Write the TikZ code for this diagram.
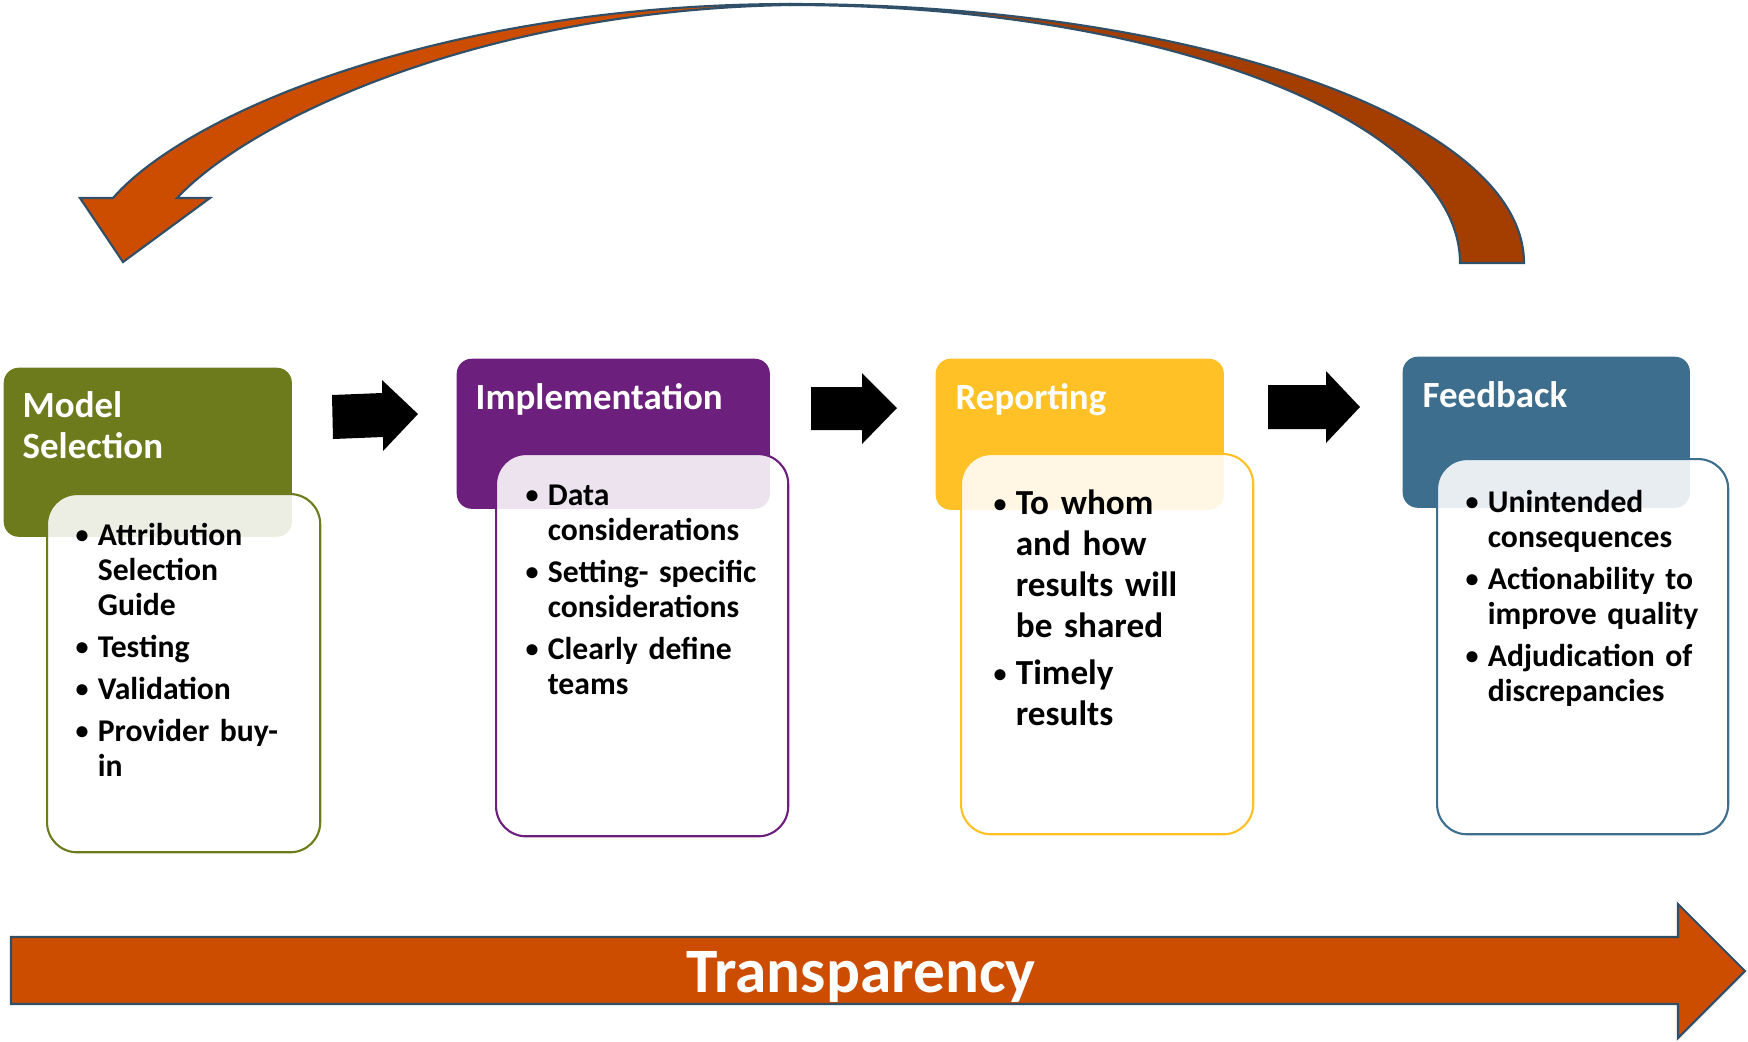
\documentclass[tikz,border=0pt]{standalone}
\usepackage{fontspec}
\setmainfont{Carlito}

\definecolor{msgreen}{HTML}{6D7B1C}
\definecolor{impurple}{HTML}{6C1F7C}
\definecolor{repyellow}{HTML}{FFC125}
\definecolor{fbblue}{HTML}{3D6E8E}
\definecolor{bandorange}{HTML}{CC4C00}
\definecolor{bandbrown}{HTML}{A33D00}
\definecolor{bandline}{HTML}{2F5068}

% bullet items with hanging indent
\newlength{\bhang}
\newcommand{\bdot}{\raisebox{0.45pt}{\fontsize{7.4}{0}\selectfont\textbullet}}
\newcommand{\bfirst}{\ifvmode\noindent\fi\hangindent=\bhang\hangafter=1\makebox[\bhang][l]{\bdot}}
\newcommand{\bitem}{\par\noindent\hangindent=\bhang\hangafter=1\makebox[\bhang][l]{\bdot}}

\begin{document}
\begin{tikzpicture}[x=0.01cm, y=-0.01cm,
  hdr/.style={rectangle, rounded corners=0.15cm, inner sep=0, anchor=north west, fill=#1},
  bodybox/.style={rectangle, rounded corners=0.3cm, draw=#1, line width=0.6pt,
    fill=white, fill opacity=0.88, inner sep=0, anchor=north west},
  ttl/.style={anchor=base west, inner sep=0, text=white,
    font=\bfseries\fontsize{10.5}{11.4}\selectfont, align=left},
  blist/.style={anchor=base west, inner sep=0, text width=#1,
    font=\bfseries\fontsize{9}{9.96}\selectfont},
  rlist/.style={anchor=base west, inner sep=0, text width=#1,
    font=\bfseries\fontsize{10}{11.67}\selectfont},
  blkarrow/.style={fill=black},
  band/.style={line width=0.6pt, draw=bandline, line join=miter}
]
\useasboundingbox (0,0) rectangle (1748,1041);

% ---- feedback loop arrow over the top ----
\filldraw[band, fill=bandbrown]
  (790,4) .. controls (1195,4) and (1524,120) .. (1524,263)
  -- (1460,263) .. controls (1460,120) and (1160,5) .. (790,5) -- cycle;

\filldraw[band, fill=bandorange]
  (80,198) -- (123,262) -- (210,198) -- (177,198)
  .. controls (250,120) and (480,10) .. (790,5)
  -- (790,4) .. controls (450,4) and (190,110) .. (113,198)
  -- cycle;

% ---- stage headers ----
\node[hdr=msgreen,   minimum width=2.88cm, minimum height=1.69cm] (msh) at (3,367) {};
\node[hdr=impurple,  minimum width=3.13cm, minimum height=1.50cm] (imh) at (456,358) {};
\node[hdr=repyellow, minimum width=2.88cm, minimum height=1.51cm] (reh) at (935,358) {};
\node[hdr=fbblue,    minimum width=2.87cm, minimum height=1.51cm] (fbh) at (1402,356) {};

\node[ttl] (mst) at (22,458) {Model\\Selection};
\node[ttl] (imt) at (475,409) {Implementation};
\node[ttl] (ret) at (955,409) {Reporting};
\node[ttl] (fbt) at (1422,407) {Feedback};

% ---- stage bodies ----
\node[bodybox=msgreen,   minimum width=2.73cm, minimum height=3.58cm] (msb) at (46,493) {};
\node[bodybox=impurple,  minimum width=2.92cm, minimum height=3.82cm] (imb) at (495,453) {};
\node[bodybox=repyellow, minimum width=2.92cm, minimum height=3.80cm] (reb) at (960,453) {};
\node[bodybox=fbblue,    minimum width=2.91cm, minimum height=3.75cm] (fbb) at (1436,458) {};

\node[blist=2.3cm] (msl) at (75,545) {\raggedright\setlength{\parskip}{2pt}\setlength{\bhang}{6.3pt}%
  \bfirst Attribution\newline Selection\newline Guide
  \bitem Testing
  \bitem Validation
  \bitem Provider buy-\newline in\par};

\node[blist=2.5cm] (iml) at (525,505) {\raggedright\setlength{\parskip}{2pt}\setlength{\bhang}{6.3pt}%
  \bfirst Data\newline considerations
  \bitem Setting- specific\newline considerations
  \bitem Clearly define\newline teams\par};

\node[rlist=2.4cm] (rel) at (993,514) {\raggedright\setlength{\parskip}{1.7pt}\setlength{\bhang}{6.3pt}%
  \bfirst To whom\newline and how\newline results will\newline be shared
  \bitem Timely\newline results\par};

\node[blist=2.5cm] (fbl) at (1465,512) {\raggedright\setlength{\parskip}{2pt}\setlength{\bhang}{6.3pt}%
  \bfirst Unintended\newline consequences
  \bitem Actionability to\newline improve quality
  \bitem Adjudication of\newline discrepancies\par};

% ---- step arrows between stages ----
\fill[blkarrow] (332,395) -- (382,393) -- (382,380) -- (418,414) -- (383,451) -- (383,437) -- (333,439) -- cycle;
\fill[blkarrow] (811,387) -- (862,387) -- (862,373) -- (897,408) -- (862,444) -- (862,430) -- (811,430) -- cycle;
\fill[blkarrow] (1268,385) -- (1326,385) -- (1326,371) -- (1360,407) -- (1326,443) -- (1326,429) -- (1268,429) -- cycle;

% ---- transparency band ----
\filldraw[band, fill=bandorange] (11,937) -- (1678,937) -- (1678,904) -- (1745,971)
  -- (1678,1038) -- (1678,1004) -- (11,1004) -- cycle;
\node[anchor=base, inner sep=0, text=white, font=\bfseries\fontsize{18}{20}\selectfont] (tra) at (861,992) {Transparency};
\end{tikzpicture}
\end{document}
